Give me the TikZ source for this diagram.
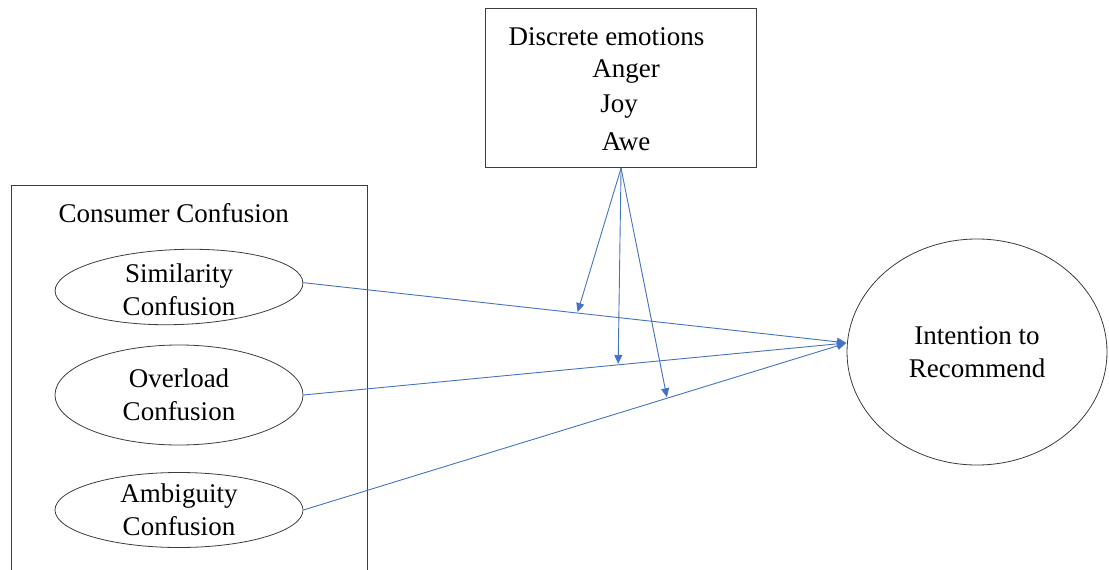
\documentclass[tikz,border=0pt]{standalone}
\usepackage{fontspec}
\setmainfont{Liberation Serif}
\usetikzlibrary{arrows.meta,shapes.geometric}
\definecolor{linkblue}{RGB}{68,114,196}
\definecolor{framegray}{RGB}{60,60,60}

\begin{document}
\begin{tikzpicture}[x=1pt,y=-1pt,>={Triangle[length=9pt,width=8pt]},shorten >=1pt,
    every node/.style={font=\fontsize{27}{33}\selectfont},
    frame/.style={rectangle,draw=framegray,line width=1.1pt,inner sep=0pt},
    construct/.style={ellipse,draw=framegray,line width=0.8pt,minimum width=248pt,inner sep=0pt},
    link/.style={->,color=linkblue,line width=0.9pt}]

            \useasboundingbox (0,0) rectangle (1109,570);

            % moderator box
            \node[frame, anchor=north west, minimum width=271pt, minimum height=159pt] (emo) at (485,8) {};
            \node[anchor=west] (disc) at (505,37) {Discrete\ emotions};
            \node (anger) at (626,72) {Anger};
            \node (joy) at (619,107) {Joy};
            \node (awe) at (626,142) {Awe};

            % independent variables
            \node[frame, anchor=north west, minimum width=356pt, minimum height=420pt] (cc) at (11,185) {};
            \node[anchor=west] (cctitle) at (55,213) {Consumer\ Confusion};

            \node[construct, minimum height=75pt, rotate=2] (sim) at (179,287) {};
            \node[align=center] (simtxt) at (179,290) {Similarity\\Confusion};
            \node[construct, minimum height=100pt] (ov) at (179,395) {};
            \node[align=center] (ovtxt) at (ov) {Overload\\Confusion};
            \node[construct, minimum height=75pt] (amb) at (179,510) {};
            \node[align=center] (ambtxt) at (amb) {Ambiguity\\Confusion};

            % dependent variable
            \node[ellipse, draw=framegray, line width=0.8pt, minimum width=260pt, minimum height=226pt, align=center, inner sep=0pt] (ir) at (977,352) {Intention\ to\\Recommend};

            \draw[link] (sim.east) -- (ir.176) coordinate[pos=0.504] (m1);
            \draw[link] (ov.east) -- (ir.176) coordinate[pos=0.579] (m2);
            \draw[link] (amb.east) -- (ir.176) coordinate[pos=0.669] (m3);

            % moderating effects
            \draw[link] (emo.south) -- (m1);
            \draw[link] (emo.south) -- (m2);
            \draw[link] (emo.south) -- (m3);
        \end{tikzpicture}
\end{document}
